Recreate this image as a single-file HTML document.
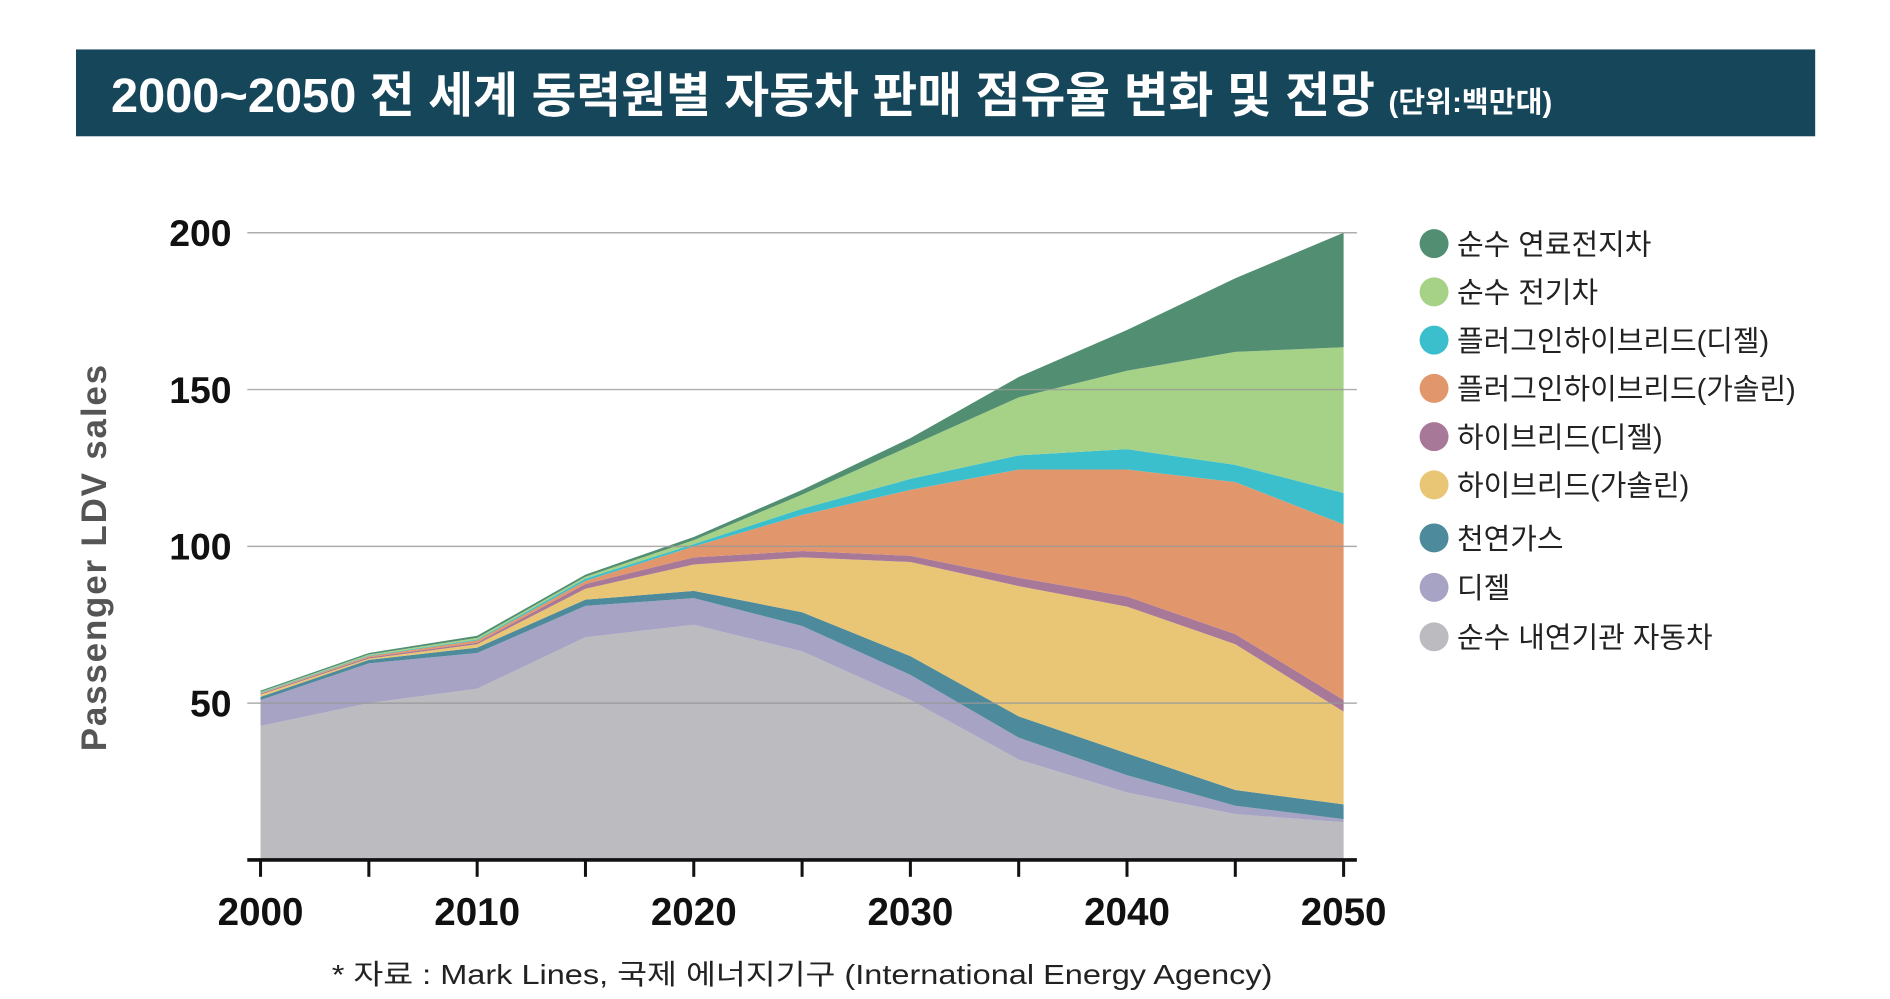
<!DOCTYPE html>
<html><head><meta charset="utf-8">
<style>
html,body{margin:0;padding:0;background:#fff;}
svg{display:block;}
text{font-family:"Liberation Sans","Noto Sans CJK KR",sans-serif;}
</style></head>
<body>
<svg id="chart" width="1890" height="999" viewBox="0 0 1567 828.3" xmlns="http://www.w3.org/2000/svg">
  <rect x="63" y="41" width="1442" height="72" fill="#16465a"/>
  <text x="92" y="93" fill="#fff" font-size="40" font-weight="bold" textLength="1195" lengthAdjust="spacingAndGlyphs">2000~2050 전 세계 동력원별 자동차 판매 점유율 변화 및 전망 <tspan font-size="24">(단위:백만대)</tspan></text>
  <g id="areas"></g>
  <g id="grid"></g>
  <g id="axes"></g>
  <text transform="translate(88,462) rotate(-90)" text-anchor="middle" font-size="29" font-weight="bold" fill="#555" letter-spacing="1.5">Passenger LDV sales</text>
  <g id="legend"></g>
  <text x="275" y="816" font-size="23" fill="#222" textLength="780" lengthAdjust="spacingAndGlyphs">* 자료 : Mark Lines, 국제 에너지기구 (International Energy Agency)</text>
</svg>
<script>
const years = [2000,2005,2010,2015,2020,2025,2030,2035,2040,2045,2050];
const seriesNames = ["순수 내연기관 자동차","디젤","천연가스","하이브리드(가솔린)","하이브리드(디젤)","플러그인하이브리드(가솔린)","플러그인하이브리드(디젤)","순수 전기차","순수 연료전지차"];
const iceValues = [42.7,50,54.6,71,75,66.5,51,32,21.5,14.6,12];
const dieselValues = [8.3,12.7,11.4,10,8.5,8.1,8,7,5.5,2.7,1];
const gasValues = [1,1.1,1.7,2,2.3,4.4,6,6.8,7,5,4.7];
const hybridGasolineValues = [0.7,0.4,1.1,3.5,8.4,17.5,30,41.5,46.8,46.5,29.6];
const hybridDieselValues = [0.3,0.4,0.5,1.5,2.3,2,2,2.7,3.2,3.2,3.7];
const phevGasolineValues = [0.2,0.4,0.7,1,3.5,11.5,21,34.5,40.5,48.5,56];
const phevDieselValues = [0.2,0.2,0.3,0.7,0.7,2,3.5,4.5,6.5,5.5,10];
const bevValues = [0.2,0.3,0.5,0.6,1.3,4.5,10.5,18.5,25,36,46.5];
const fcevValues = [0.4,0.5,0.7,0.7,1,1.5,2.5,6.5,13,23.5,36.5];
const yTicks = [50,100,150,200];
const xLabels = [2000,2010,2020,2030,2040,2050];

const allSeries = [iceValues,dieselValues,gasValues,hybridGasolineValues,hybridDieselValues,phevGasolineValues,phevDieselValues,bevValues,fcevValues];
const colors = ["#bcbbc0","#a7a3c4","#4d8a9c","#e9c675","#a87898","#e1976b","#3cbfcc","#a5d286","#528f72"];
const NS="http://www.w3.org/2000/svg";
const x = y => 216 + (y-2000)/50*(1114-216);
const yS = v => 713 - v*2.6;
function mk(tag, attrs, parent){const e=document.createElementNS(NS,tag);for(const k in attrs)e.setAttribute(k,attrs[k]);parent.appendChild(e);return e;}

const areas=document.getElementById('areas');
let base = years.map(()=>0);
const areaKeys=["area-ice","area-diesel","area-natural-gas","area-hybrid-gasoline","area-hybrid-diesel","area-phev-gasoline","area-phev-diesel","area-bev","area-fcev"];
allSeries.forEach((s,i)=>{
  const top = base.map((b,j)=>b+s[j]);
  let d = years.map((yr,j)=>(j?'L':'M')+x(yr)+','+yS(top[j])).join(' ');
  for(let j=years.length-1;j>=0;j--) d+=' L'+x(years[j])+','+yS(base[j]);
  const p=mk('path',{d:d+' Z',fill:colors[i]},areas);
  
  
  base = top;
});

const grid=document.getElementById('grid');
yTicks.forEach(v=>{
  const l=mk('line',{x1:205,x2:1125,y1:yS(v),y2:yS(v),stroke:'#999','stroke-width':1.2,opacity:0.8},grid);
  
  
});

const axes=document.getElementById('axes');
yTicks.forEach(v=>{
  const t=mk('text',{x:192,y:yS(v)+11,'text-anchor':'end','font-size':31,'font-weight':'bold',fill:'#111'},axes);
  t.textContent=v;
  
  
});
const ax=mk('line',{x1:205,x2:1125,y1:713,y2:713,stroke:'#111','stroke-width':3},axes);


years.forEach(yr=>{
  const tk=mk('line',{x1:x(yr),x2:x(yr),y1:713,y2:727,stroke:'#111','stroke-width':2.5},axes);
  
  
});
xLabels.forEach(yr=>{
  const t=mk('text',{x:x(yr),y:767,'text-anchor':'middle','font-size':32,'font-weight':'bold',fill:'#111'},axes);
  t.textContent=yr;
  
  
});

const legend=document.getElementById('legend');
const legendY=[202,242,282,322,362,402,446,487,528];
for(let k=0;k<9;k++){
  const i=8-k;
  const g=mk('g',{},legend);
  
  
  mk('circle',{cx:1189,cy:legendY[k],r:12,fill:colors[i]},g);
  const t=mk('text',{x:1208,y:legendY[k]+9,'font-size':24,fill:'#222'},g);
  t.textContent=seriesNames[i];
}
</script>
</body></html>
